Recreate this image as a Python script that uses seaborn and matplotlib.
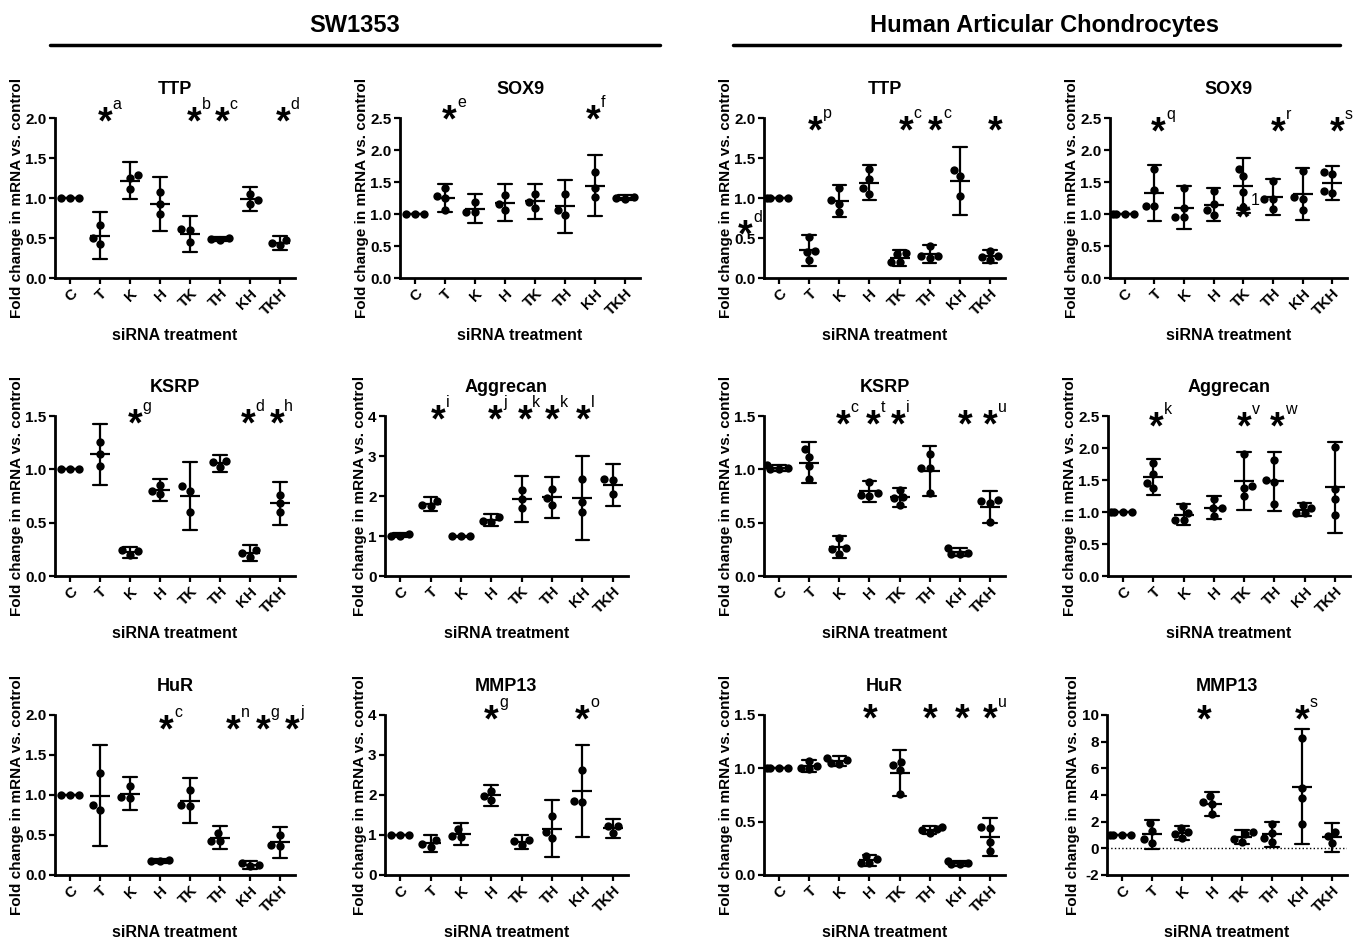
import numpy as np
import pandas as pd
import matplotlib
matplotlib.use('Agg')
import matplotlib.pyplot as plt
from matplotlib.lines import Line2D
import seaborn as sns

treatments = ['C', 'T', 'K', 'H', 'TK', 'TH', 'KH', 'TKH']

# SW1353 cells, fold change per replicate
sw_ttp = [[1.0, 1.0, 1.0], [0.66, 0.43, 0.50], [1.29, 1.25, 1.11], [1.07, 0.92, 0.80],
          [0.61, 0.60, 0.45], [0.50, 0.48, 0.49], [1.05, 0.93, 0.98], [0.48, 0.41, 0.44]]
sw_sox9 = [[1.0, 1.0, 1.0], [1.40, 1.28, 1.25, 1.07], [1.19, 1.03, 1.03], [1.30, 1.07, 1.16],
           [1.31, 1.09, 1.19], [1.31, 0.99, 1.06], [1.65, 1.27, 1.41], [1.27, 1.24, 1.25]]
sw_ksrp = [[1.0, 1.0, 1.0], [1.26, 1.14, 1.03], [0.24, 0.20, 0.23], [0.85, 0.77, 0.80],
           [0.84, 0.80, 0.60], [1.08, 1.02, 1.07], [0.24, 0.18, 0.22], [0.76, 0.60, 0.68]]
sw_aggrecan = [[1.04, 1.01, 1.00], [1.88, 1.74, 1.78], [1.00, 1.00, 0.99], [1.47, 1.37, 1.36],
               [2.16, 1.70, 1.93], [2.18, 1.77, 1.94], [2.43, 1.61, 1.84], [2.42, 2.04, 2.39]]
sw_hur = [[1.0, 1.0, 1.0], [1.28, 0.81, 0.88], [1.11, 0.96, 0.98], [0.19, 0.17, 0.18],
          [1.06, 0.86, 0.87], [0.53, 0.43, 0.43], [0.15, 0.12, 0.11], [0.50, 0.36, 0.37]]
sw_mmp13 = [[1.0, 1.0, 1.0], [0.88, 0.71, 0.78], [1.15, 0.95, 0.97], [2.10, 1.88, 1.98],
            [0.87, 0.75, 0.86], [1.48, 0.92, 1.08], [2.63, 1.82, 1.85], [1.22, 1.05, 1.22]]

# Human articular chondrocytes
hac_ttp = [[1.0, 1.0, 1.0, 1.0], [0.51, 0.34, 0.32, 0.22], [1.12, 0.97, 0.93, 0.82],
           [1.36, 1.24, 1.12, 1.05], [0.31, 0.30, 0.20, 0.20], [0.40, 0.28, 0.27, 0.25],
           [1.35, 1.27, 1.02], [0.34, 0.27, 0.26, 0.22]]
hac_sox9 = [[1.0, 1.0, 1.0, 1.0], [1.70, 1.38, 1.12, 1.12], [1.40, 1.10, 0.95, 0.95],
            [1.36, 1.16, 1.07, 0.98], [1.71, 1.60, 1.34, 1.11], [1.51, 1.24, 1.23, 1.08],
            [1.67, 1.27, 1.24, 1.07], [1.65, 1.62, 1.36, 1.33]]
hac_ksrp = [[1.00, 1.00, 1.01, 1.04], [1.19, 1.12, 1.03, 0.91], [0.36, 0.26, 0.25, 0.21],
            [0.88, 0.78, 0.76, 0.75], [0.81, 0.73, 0.74, 0.67], [1.14, 1.01, 1.01, 0.78],
            [0.26, 0.22, 0.21, 0.21], [0.71, 0.70, 0.68, 0.51]]
hac_aggrecan = [[1.0, 1.0, 1.0, 1.0], [1.77, 1.60, 1.46, 1.37], [1.09, 0.99, 0.88, 0.88],
                [1.21, 1.07, 1.06, 0.93], [1.90, 1.41, 1.38, 1.25], [1.82, 1.50, 1.47, 1.12],
                [1.11, 1.06, 0.98, 0.98], [2.01, 1.36, 1.21, 0.96]]
hac_hur = [[1.0, 1.0, 1.0, 1.0], [1.07, 1.02, 1.00, 0.99], [1.10, 1.08, 1.05, 1.04],
           [0.18, 0.15, 0.11, 0.11], [1.06, 1.03, 0.98, 0.76], [0.45, 0.43, 0.42, 0.39],
           [0.13, 0.11, 0.10, 0.10], [0.45, 0.44, 0.31, 0.22]]
hac_mmp13 = [[1.0, 1.0, 1.0, 1.0], [1.90, 1.30, 0.66, 0.36], [1.55, 1.20, 1.10, 0.75],
             [3.95, 3.45, 3.35, 2.55], [1.20, 1.10, 0.70, 0.50], [1.80, 1.15, 0.75, 0.45],
             [8.30, 4.50, 3.80, 1.85], [1.24, 0.91, 0.37]]

# significance marks: treatment -> superscript letter
sw_ttp_sig = {'T': 'a', 'TK': 'b', 'TH': 'c', 'TKH': 'd'}
sw_sox9_sig = {'T': 'e', 'KH': 'f'}
sw_ksrp_sig = {'K': 'g', 'KH': 'd', 'TKH': 'h'}
sw_aggrecan_sig = {'T': 'i', 'H': 'j', 'TK': 'k', 'TH': 'k', 'KH': 'l'}
sw_hur_sig = {'H': 'c', 'TH': 'n', 'KH': 'g', 'TKH': 'j'}
sw_mmp13_sig = {'H': 'g', 'KH': 'o'}
hac_ttp_sig = {'T': 'p', 'TK': 'c', 'TH': 'c', 'TKH': ''}
hac_sox9_sig = {'T': 'q', 'TH': 'r', 'TKH': 's'}
hac_ksrp_sig = {'K': 'c', 'H': 't', 'TK': 'i', 'KH': '', 'TKH': 'u'}
hac_aggrecan_sig = {'T': 'k', 'TK': 'v', 'TH': 'w'}
hac_hur_sig = {'H': '', 'TH': '', 'KH': '', 'TKH': 'u'}
hac_mmp13_sig = {'H': '', 'KH': 's'}

TCRIT = {2: 4.303, 3: 3.182}


def ci95(v):
    v = np.asarray(v, dtype=float)
    n = len(v)
    h = TCRIT[n - 1] * v.std(ddof=1) / np.sqrt(n)
    return v.mean() - h, v.mean() + h


sns.set_style('ticks')
plt.rcParams['font.family'] = ['Liberation Sans', 'DejaVu Sans']
plt.rcParams.update({'font.weight': 'bold', 'axes.labelweight': 'bold',
                     'axes.titleweight': 'bold', 'text.color': 'k', 'axes.labelcolor': 'k',
                     'xtick.color': 'k', 'ytick.color': 'k', 'axes.edgecolor': 'k'})

fig = plt.figure(figsize=(13.57, 9.38), dpi=100)

H = 0.1706
rows = [0.7036, 0.3859, 0.0672]

panels = [
    # title, data, sig, rect, yticks, fmt, star_y, star_dx, extra
    ('TTP', sw_ttp, sw_ttp_sig, [0.0405, rows[0], 0.1769, H], np.arange(0, 2.01, 0.5), '%.1f', 2.06,
     {'T': .17, 'TK': .14, 'TH': .06, 'TKH': .09}, []),
    ('SOX9', sw_sox9, sw_sox9_sig, [0.2948, rows[0], 0.1769, H], np.arange(0, 2.51, 0.5), '%.1f', 2.60,
     {'T': .14, 'KH': -.06}, []),
    ('TTP', hac_ttp, hac_ttp_sig, [0.563, rows[0], 0.1776, H], np.arange(0, 2.01, 0.5), '%.1f', 1.95,
     {'T': .19, 'TK': .21, 'TH': .19, 'TKH': .17}, [(-1.11, 0.65, 'd')]),
    ('SOX9', hac_sox9, hac_sox9_sig, [0.818, rows[0], 0.1747, H], np.arange(0, 2.51, 0.5), '%.1f', 2.42,
     {'T': .14, 'TH': .16, 'TKH': .16}, [(4, 1.08, '1')]),
    ('KSRP', sw_ksrp, sw_ksrp_sig, [0.0405, rows[1], 0.1769, H], np.arange(0, 1.51, 0.5), '%.1f', 1.51,
     {'K': .17, 'KH': -.06, 'TKH': -.11}, []),
    ('Aggrecan', sw_aggrecan, sw_aggrecan_sig, [0.2837, rows[1], 0.179, H], np.arange(0, 4.1, 1), '%d', 4.12,
     {'T': .25, 'H': .14, 'TK': .1, 'TH': 0, 'KH': .02}, []),
    ('KSRP', hac_ksrp, hac_ksrp_sig, [0.563, rows[1], 0.1776, H], np.arange(0, 1.51, 0.5), '%.1f', 1.50,
     {'K': .12, 'H': .12, 'TK': -.05, 'KH': .18, 'TKH': .02}, []),
    ('Aggrecan', hac_aggrecan, hac_aggrecan_sig, [0.8165, rows[1], 0.1783, H], np.arange(0, 2.51, 0.5), '%.1f', 2.46,
     {'T': .08, 'TK': 0, 'TH': .1}, []),
    ('HuR', sw_hur, sw_hur_sig, [0.0405, rows[2], 0.1769, H], np.arange(0, 2.01, 0.5), '%.1f', 1.92,
     {'H': .22, 'TH': .44, 'KH': .44, 'TKH': .42}, []),
    ('MMP13', sw_mmp13, sw_mmp13_sig, [0.2837, rows[2], 0.179, H], np.arange(0, 4.1, 1), '%d', 4.10,
     {'H': 0, 'KH': 0}, []),
    ('HuR', hac_hur, hac_hur_sig, [0.563, rows[2], 0.1776, H], np.arange(0, 1.51, 0.5), '%.1f', 1.54,
     {'H': .03, 'TH': 0, 'KH': .07, 'TKH': 0}, []),
    ('MMP13', hac_mmp13, hac_mmp13_sig, [0.8158, rows[2], 0.1769, H], np.arange(-2, 10.1, 2), '%d', 10.3,
     {'H': -.28, 'KH': 0}, []),
]


def star(ax, x, y, letter):
    ax.annotate('*', xy=(x, y), xytext=(0, -14.5), textcoords='offset points', ha='center',
                va='baseline', fontsize=27, fontweight='bold', annotation_clip=False)
    if letter:
        ax.annotate(letter, xy=(x, y), xytext=(5.5, 3), textcoords='offset points', ha='left',
                    va='baseline', fontsize=11.5, fontweight='normal', annotation_clip=False)


for title, groups, sig, rect, yticks, fmt, star_y, star_dx, extra in panels:
    ax = fig.add_axes(rect)
    df = pd.DataFrame({'grp': [t for t, g in zip(treatments, groups) for _ in g],
                       'val': [v for g in groups for v in g]})
    sns.swarmplot(data=df, x='grp', y='val', order=treatments, color='k', size=6, ax=ax, zorder=3)
    sns.pointplot(data=df, x='grp', y='val', order=treatments, errorbar=ci95, color='k',
                  linestyle='none', marker='_', markersize=15, markeredgewidth=1.6,
                  capsize=0.45, err_kws={'linewidth': 1.6}, ax=ax, zorder=4)
    if yticks[0] < 0:
        ax.axhline(0, color='k', ls=':', lw=1)
    ax.set_ylim(yticks[0], yticks[-1])
    ax.set_xlim(-0.5, 7.5)
    ax.set_yticks(yticks)
    ax.set_yticklabels([fmt % t for t in yticks], fontsize=11, fontweight='bold')
    ax.set_xticks(range(len(treatments)))
    ax.set_xticklabels(treatments, rotation=45, ha='right', rotation_mode='anchor',
                       fontsize=11, fontweight='bold')
    sns.despine(ax=ax)
    for s in ['left', 'bottom']:
        ax.spines[s].set_linewidth(2)
    ax.tick_params(width=1.6, length=4, pad=2)
    ax.set_xlabel('siRNA treatment', fontsize=11.5, labelpad=7)
    ax.set_ylabel('Fold change in mRNA vs. control', fontsize=11, labelpad=1)
    ax.set_title(title, fontsize=13, pad=17)
    for t, letter in sig.items():
        star(ax, treatments.index(t) + star_dx.get(t, 0), star_y, letter)
    for x, y, letter in extra:
        star(ax, x, y, letter)

fig.text(0.2616, 0.9733, 'SW1353', ha='center', va='center', fontsize=17, fontweight='bold')
fig.text(0.770, 0.9733, 'Human Articular Chondrocytes', ha='center', va='center',
         fontsize=17, fontweight='bold')
fig.add_artist(Line2D([0.0368, 0.4864], [0.952, 0.952], color='k', lw=2.5))
fig.add_artist(Line2D([0.540, 0.9875], [0.952, 0.952], color='k', lw=2.5))

fig.savefig('out.png', dpi=100)
